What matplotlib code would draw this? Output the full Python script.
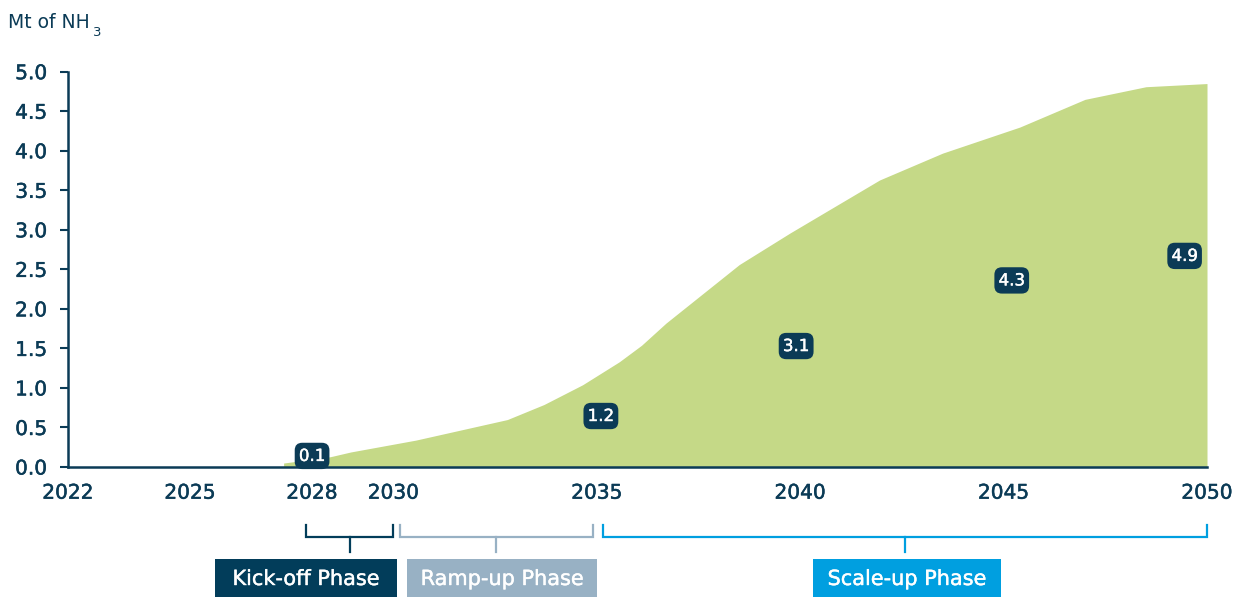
import matplotlib
matplotlib.use('Agg')
import matplotlib.pyplot as plt
import matplotlib.patheffects as pe
from matplotlib.patches import Rectangle
from matplotlib.lines import Line2D
from matplotlib.transforms import blended_transform_factory

plt.rcParams['font.family'] = ['DejaVu Sans']

# ---- data ----
years = [2027.3, 2028.45, 2028.95, 2030.55, 2032.8, 2033.7, 2034.65, 2035.55,
         2036.1, 2036.7, 2038.5, 2039.75, 2041.95, 2043.5, 2045.4, 2047.0,
         2048.5, 2050.0]
supply = [0.05, 0.13, 0.19, 0.34, 0.60, 0.79, 1.04, 1.33,
          1.54, 1.82, 2.56, 2.96, 3.63, 3.97, 4.30, 4.65,
          4.81, 4.85]

label_years = [2028, 2035, 2040, 2045, 2050]
label_values = [0.1, 1.2, 3.1, 4.3, 4.9]

xtick_years = [2022, 2025, 2028, 2030, 2035, 2040, 2045, 2050]
ytick_values = [0.0, 0.5, 1.0, 1.5, 2.0, 2.5, 3.0, 3.5, 4.0, 4.5, 5.0]

phase_names = ['Kick-off Phase', 'Ramp-up Phase', 'Scale-up Phase']
phase_starts = [2027.85, 2030.15, 2035.15]
phase_ends = [2030.0, 2034.9, 2050.0]

# ---- layout / style ----
W, H = 1240, 597
NAVY = '#0b3b56'
GREEN = '#c5d987'
PHASE_COLORS = ['#023d5a', '#98b1c4', '#009fe0']
label_x = [2028.0, 2035.1, 2039.9, 2045.2, 2049.45]
label_y = [0.14, 0.645, 1.53, 2.36, 2.67]
box_px = [(215, 397), (407, 597), (813, 1001)]


def heavy(color, w=0.35):
    return [pe.withStroke(linewidth=w, foreground=color)]


fig = plt.figure(figsize=(W / 100, H / 100), dpi=100)
ax = fig.add_axes([68 / W, 130 / H, (1207 - 68) / W, (467 - 71.7) / H])

ax.fill_between(years, supply, 0, color=GREEN, linewidth=0, zorder=1)

ax.set_xlim(2022, 2050)
ax.set_ylim(0, 5.0)
ax.set_xticks(xtick_years)
ax.set_xticklabels([str(y) for y in xtick_years])
ax.set_yticks(ytick_values)
ax.set_yticklabels([f'{v:.1f}' for v in ytick_values])

for s in ['top', 'right']:
    ax.spines[s].set_visible(False)
for s in ['left', 'bottom']:
    ax.spines[s].set_color(NAVY)
    ax.spines[s].set_linewidth(1.8)
    ax.spines[s].set_zorder(3)

ax.tick_params(axis='y', length=6, width=1.5, color=NAVY, pad=9,
               labelsize=14.5, labelcolor=NAVY)
ax.tick_params(axis='x', length=0, pad=12, labelsize=14.5, labelcolor=NAVY)
for lab in ax.get_xticklabels() + ax.get_yticklabels():
    lab.set_path_effects(heavy(NAVY))

# value labels
for x, y, v in zip(label_x, label_y, label_values):
    ax.text(x, y, f'{v:.1f}', ha='center', va='center', color='white',
            fontsize=12, zorder=4, path_effects=heavy('white', 0.3),
            bbox=dict(boxstyle='round,pad=0.25,rounding_size=0.45',
                      fc=NAVY, ec='none'))

# unit label with lowered subscript
t = fig.text(8 / W, 1 - 28 / H, 'Mt of NH', ha='left', va='baseline',
             fontsize=13.5, color=NAVY)
fig.canvas.draw()
bb = t.get_window_extent()
fig.text((bb.x1 + 3) / W, 1 - 36 / H, '3', ha='left', va='baseline',
         fontsize=9.5, color=NAVY)

# phase brackets
tr = blended_transform_factory(ax.transData, fig.transFigure)
y_top = 1 - 525 / H
y_mid = 1 - 537 / H
y_bot = 1 - 552 / H
for x0, x1, c in zip(phase_starts, phase_ends, PHASE_COLORS):
    xm = (x0 + x1) / 2
    fig.add_artist(Line2D([x0, x0, x1, x1], [y_top, y_mid, y_mid, y_top],
                          transform=tr, color=c, lw=1.6, solid_joinstyle='miter'))
    fig.add_artist(Line2D([xm, xm], [y_mid, y_bot], transform=tr, color=c, lw=1.6))

# phase boxes
by0 = 1 - 597 / H
by1 = 1 - 559 / H
for (px0, px1), name, c in zip(box_px, phase_names, PHASE_COLORS):
    fig.add_artist(Rectangle((px0 / W, by0), (px1 - px0) / W, by1 - by0,
                             transform=fig.transFigure, fc=c, ec='none'))
    fig.text((px0 + px1) / 2 / W, (by0 + by1) / 2 - 1 / H, name, ha='center',
             va='center', color='white', fontsize=15,
             path_effects=heavy('white', 0.3))

fig.savefig('out.png', dpi=100)
